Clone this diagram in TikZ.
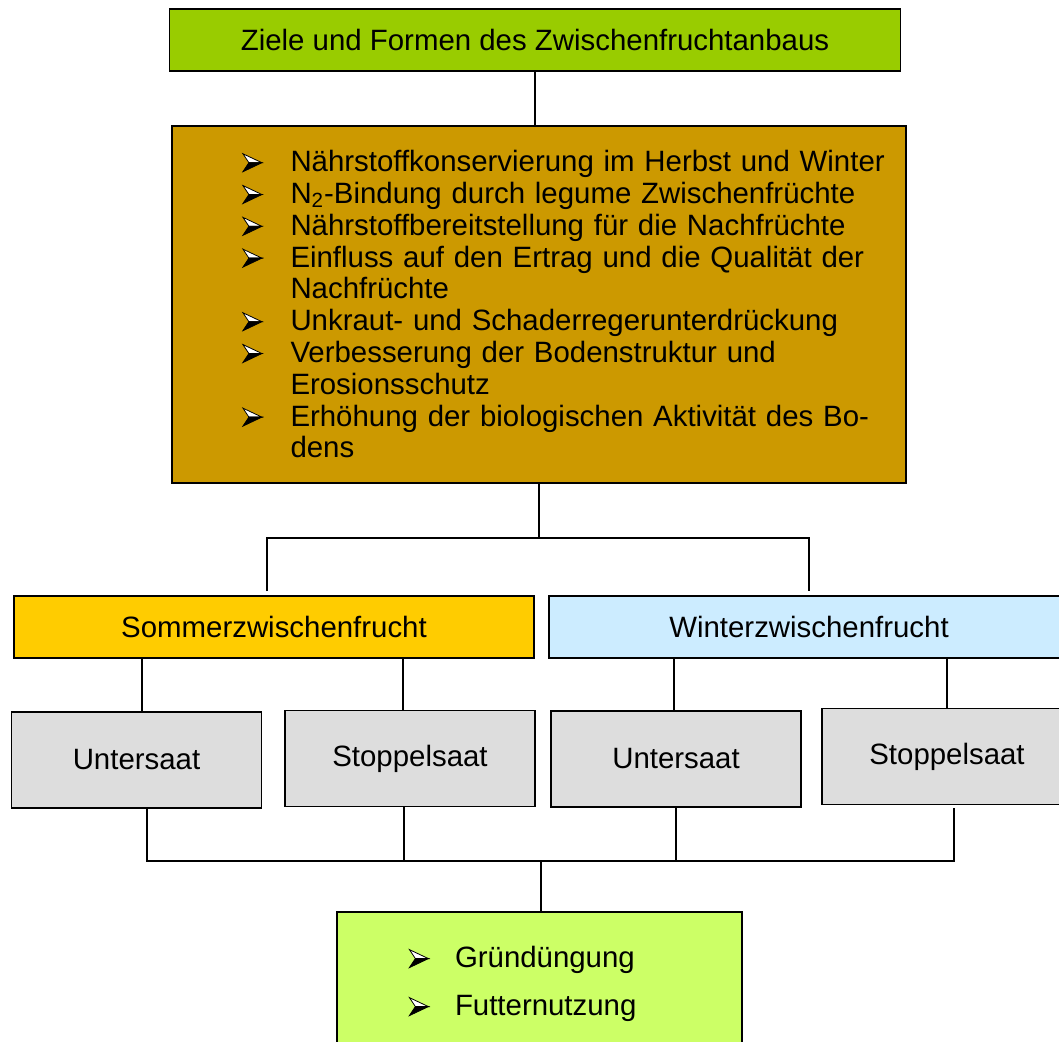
\documentclass[tikz,border=0pt]{standalone}
\usepackage{fontspec}
\setmainfont{Liberation Sans}
\usepackage{xcolor}
\definecolor{titlegreen}{HTML}{99CC00}
\definecolor{goalbrown}{HTML}{CC9900}
\definecolor{summeryellow}{HTML}{FFCC00}
\definecolor{winterblue}{HTML}{CCECFF}
\definecolor{sowgray}{HTML}{DDDDDD}
\definecolor{uselime}{HTML}{CCFF66}
\newcommand\tipmark{\tikz[baseline=0pt,x=1pt,y=1pt,line width=0.4pt,line join=miter]{
	\filldraw[fill=white] (0,9) -- (9.5,4.5) -- (3,4.5) -- cycle;
	\filldraw[fill=black] (0,0) -- (9.5,4.5) -- (3,4.5) -- cycle;}}
\newcommand\goal[1]{\hspace*{34.5pt}\makebox[24pt][l]{\tipmark}#1}
\newcommand\goalcont[1]{\hspace*{58.5pt}#1}
\tikzset{
	box/.style={draw, line width=0.9pt, inner sep=0pt, font=\fontsize{14.7}{15.9}\selectfont},
	sowbox/.style={box, fill=sowgray, minimum width=125pt, minimum height=48pt},
	link/.style={line width=0.65pt}
}

\begin{document}
\begin{tikzpicture}[x=0.5pt,y=-0.5pt]
	\useasboundingbox (0,0) rectangle (1059,1042);
	\clip (0,0) rectangle (1059,1042);
	\node[box,fill=titlegreen,minimum width=365.5pt,minimum height=31pt] (title) at (535,40) {Ziele und Formen des Zwischenfruchtanbaus};
	\node[box,fill=goalbrown,minimum width=367pt,minimum height=178.5pt,text width=365.5pt,align=left] (goals) at (539,304.5) {%
		\goal{\rule{0pt}{15.1pt}Nährstoffkonservierung im Herbst und Winter}\\
		\goal{N\textsubscript{2}-Bindung durch legume Zwischenfrüchte}\\
		\goal{Nährstoffbereitstellung für die Nachfrüchte}\\
		\goal{Einfluss auf den Ertrag und die Qualität der}\\
		\goalcont{Nachfrüchte}\\
		\goal{Unkraut- und Schaderregerunterdrückung}\\
		\goal{Verbesserung der Bodenstruktur und}\\
		\goalcont{Erosionsschutz}\\
		\goal{Erhöhung der biologischen Aktivität des Bo-}\\
		\goalcont{dens\strut}};
	\node[box,fill=summeryellow,minimum width=260.25pt,minimum height=31pt] (sommer) at (274,627) {Sommerzwischenfrucht};
	\node[box,fill=winterblue,minimum width=260pt,minimum height=31pt] (winter) at (809,627) {Winterzwischenfrucht};
	\node[sowbox] (u1) at (136.5,760) {Untersaat};
	\node[sowbox] (s1) at (410,758.5) {Stoppelsaat};
	\node[sowbox] (u2) at (676,759) {Untersaat};
	\node[sowbox] (s2) at (947,756.5) {Stoppelsaat};
	\node[box,fill=uselime,minimum height=70pt,text width=130.5pt,inner xsep=36pt,align=left,font=\fontsize{14.7}{24}\selectfont] (use) at (539.5,982) {%
		\makebox[23pt][l]{\tipmark}Gründüngung\strut\\
		\makebox[23pt][l]{\tipmark}Futternutzung\strut};
	\coordinate (split) at (539,538);
	\coordinate (merge) at (541,861);
	\draw[link] (title.south) -- (title.south |- goals.north);
	\draw[link] (goals.south) -- (split);
	\draw[link,shorten <=2pt,shorten >=2pt] ([xshift=-3.5pt]sommer.north) |- (split) -| (winter.north);
	\draw[link] ([xshift=2.75pt]u1.north) -- ([xshift=2.75pt]u1.north |- sommer.south);
	\draw[link] ([xshift=-3.5pt]s1.north) -- ([xshift=-3.5pt]s1.north |- sommer.south);
	\draw[link] ([xshift=-1pt]u2.north) -- ([xshift=-1pt]u2.north |- winter.south);
	\draw[link] (s2.north) -- ([yshift=1pt]s2.north |- winter.south);
	\draw[link] ([xshift=5.25pt]u1.south) |- (merge) -| ([xshift=3.5pt,yshift=-1.5pt]s2.south);
	\draw[link] ([xshift=-3pt]s1.south) -- ([xshift=-3pt]s1.south |- merge);
	\draw[link] (u2.south) -- (u2.south |- merge);
	\draw[link] (merge) -- (merge |- use.north);
\end{tikzpicture}
\end{document}
